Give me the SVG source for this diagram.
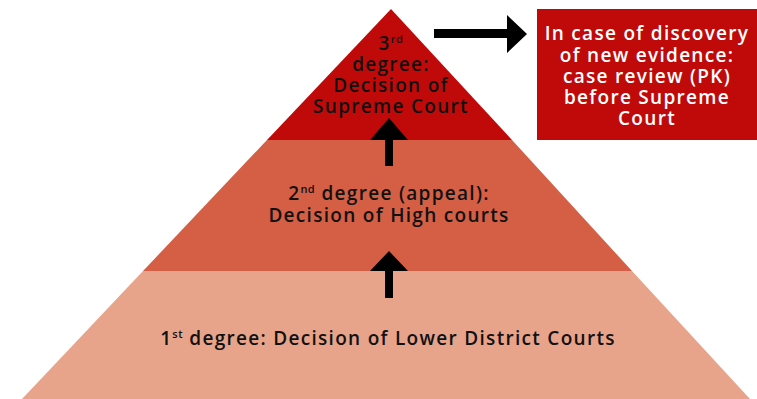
<svg xmlns="http://www.w3.org/2000/svg" width="757" height="399" viewBox="0 0 757 399">
<style>
.t{font-family:"Open Sans","Liberation Sans",sans-serif;font-weight:600;font-size:19px;letter-spacing:1.3px;fill:#111;text-anchor:middle}
.w{fill:#fff}
.s{font-size:11px;letter-spacing:0.5px}
</style>
<rect width="757" height="399" fill="#fff"/>
<g id="level1">
<polygon points="143,271 632,271 750,399 22,399" fill="#E8A48A"/>
<text class="t" x="388" y="345">1<tspan class="s" dy="-7">st</tspan><tspan dy="7"> degree: Decision of Lower District Courts</tspan></text>
</g>
<g id="level2">
<polygon points="267,140 512,140 632,271 143,271" fill="#D45F45"/>
<text class="t" x="389" y="200">2<tspan class="s" dy="-7">nd</tspan><tspan dy="7"> degree (appeal):</tspan><tspan x="389" dy="22">Decision of High courts</tspan></text>
</g>
<g id="level3">
<polygon points="391,9 512,140 267,140" fill="#C00A0A"/>
<text class="t" x="391" y="50">3<tspan class="s" dy="-7">rd</tspan><tspan x="391" dy="28">degree:</tspan><tspan x="391" dy="21">Decision of</tspan><tspan x="391" dy="21">Supreme Court</tspan></text>
</g>
<g id="review">
<rect x="537" y="9" width="220" height="131" fill="#C00A0A"/>
<text class="t w" x="647" y="40">In case of discovery<tspan x="647" dy="22">of new evidence:</tspan><tspan x="647" dy="21">case review (PK)</tspan><tspan x="647" dy="21">before Supreme</tspan><tspan x="647" dy="21">Court</tspan></text>
</g>
<g id="connectors" fill="#000">
<polygon points="385,166 393,166 393,140 408,140 389,118 370,140 385,140"/>
<polygon points="385,298 393,298 393,271 408,271 389,251 370,271 385,271"/>
<polygon points="434,29 507,29 507,15 527,34 507,53 507,38 434,38"/>
</g>
</svg>
